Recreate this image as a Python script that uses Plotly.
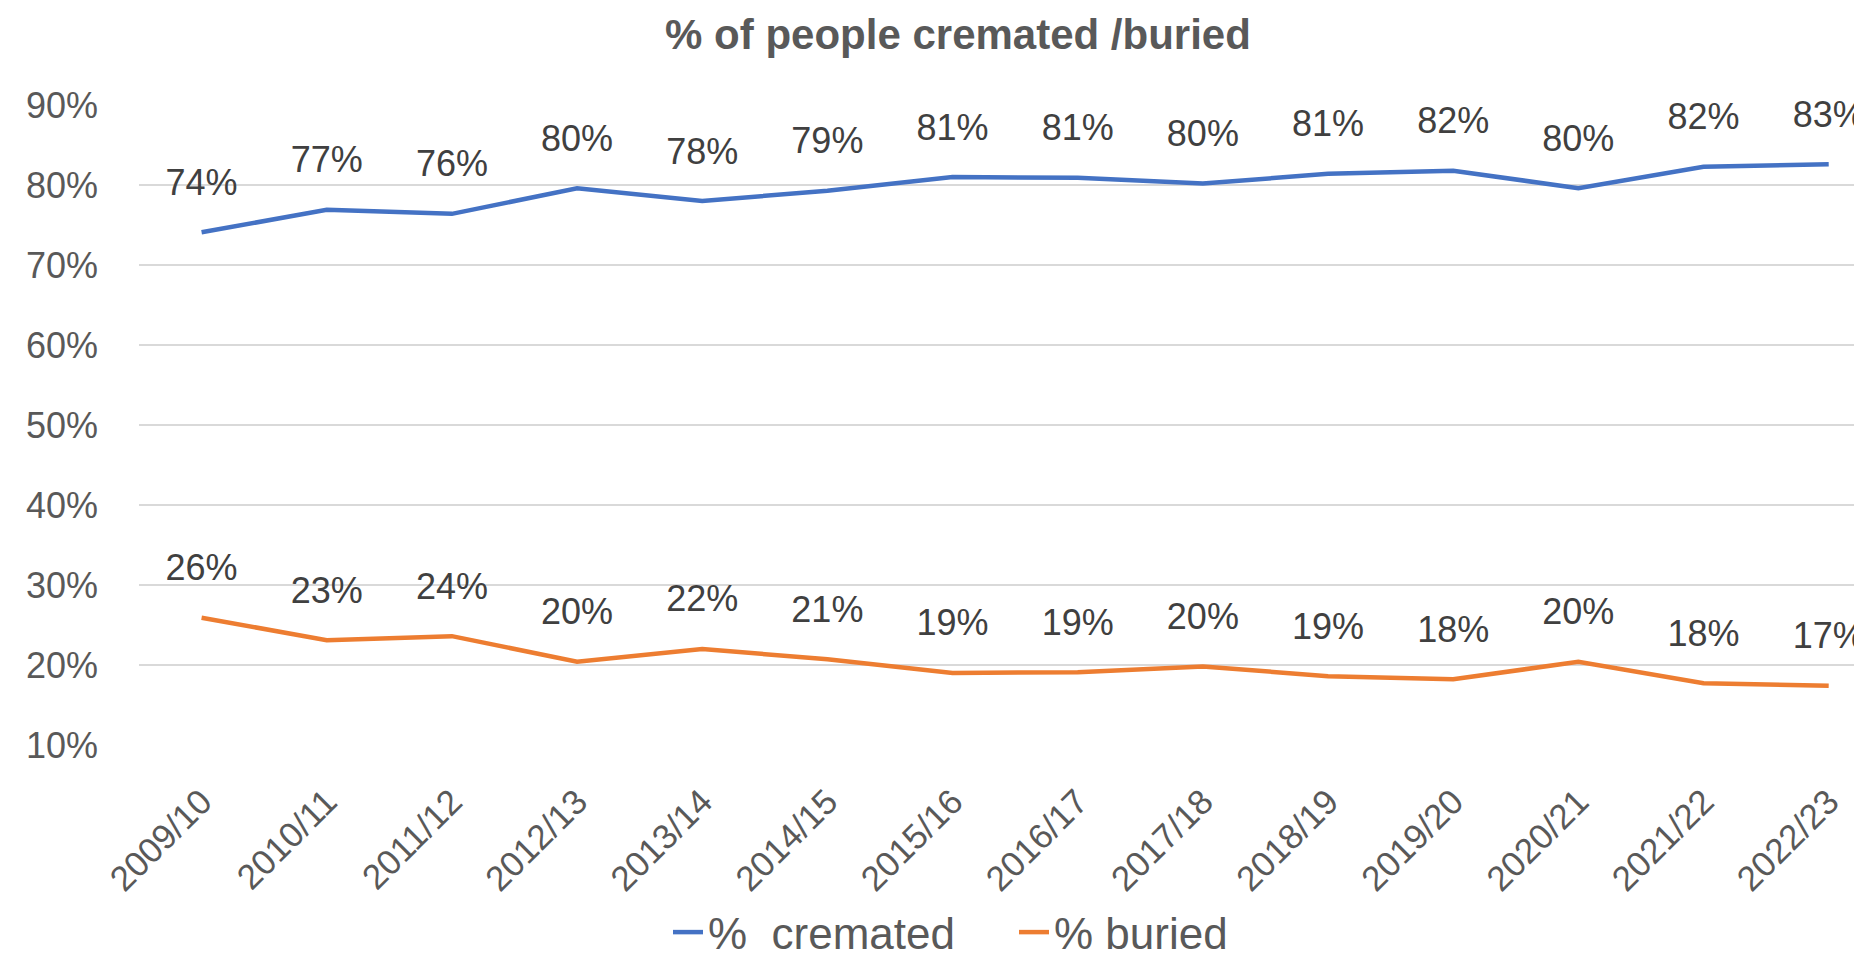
import plotly.graph_objects as go

years = ["2009/10", "2010/11", "2011/12", "2012/13", "2013/14", "2014/15", "2015/16",
         "2016/17", "2017/18", "2018/19", "2019/20", "2020/21", "2021/22", "2022/23"]
cremated = [0.741, 0.769, 0.764, 0.796, 0.780, 0.793, 0.810,
            0.809, 0.802, 0.814, 0.818, 0.796, 0.823, 0.826]
buried = [0.259, 0.231, 0.236, 0.204, 0.220, 0.207, 0.190,
          0.191, 0.198, 0.186, 0.182, 0.204, 0.177, 0.174]

grey = "#595959"
font_family = "Liberation Sans, Arial, sans-serif"

fig = go.Figure()

def add_line(y, name, color):
    fig.add_trace(go.Scatter(
        x=list(range(len(years))), y=y, name=name,
        mode="lines+markers+text",
        line=dict(color=color, width=4.5),
        marker=dict(size=44, color="rgba(0,0,0,0)"),
        texttemplate="%{y:.0%}", textposition="top center",
        textfont=dict(size=36, color="#404040", family=font_family),
        cliponaxis=False,
    ))

add_line(cremated, "%  cremated", "#4472C4")
add_line(buried, "% buried", "#ED7D31")

fig.update_layout(
    width=1862, height=960,
    paper_bgcolor="white", plot_bgcolor="white",
    margin=dict(l=131, r=0, t=97, b=223, autoexpand=False),
    font=dict(family=font_family, color=grey, size=36),
    title=dict(text="<b>% of people cremated /buried</b>",
               x=950 / 1862, xanchor="center", xref="container",
               y=1 - 26 / 960, yanchor="middle", yref="container",
               font=dict(size=42, color=grey, family=font_family)),
    showlegend=True,
    legend=dict(orientation="h", x=1006 / 1862, xanchor="center", xref="container",
                y=0, yanchor="bottom", yref="container",
                font=dict(size=44, color=grey), itemwidth=30,
                entrywidth=301, entrywidthmode="pixels",
                itemclick=False),
)

fig.update_xaxes(
    tickmode="array", tickvals=list(range(len(years))), ticktext=years,
    range=[-0.5, 13.33], tickangle=-45, showgrid=False, zeroline=False,
    showline=False, ticklabelstandoff=28, automargin=False,
    tickfont=dict(size=35, color=grey),
)
fig.update_yaxes(
    range=[0.0999, 0.9001], tickvals=[0.1, 0.2, 0.3, 0.4, 0.5, 0.6, 0.7, 0.8, 0.9],
    tickformat=".0%", showgrid=True, gridcolor="#D9D9D9", gridwidth=2,
    zeroline=False, showline=False, ticklabelstandoff=40, automargin=False,
    tickfont=dict(size=36, color=grey),
)

fig.write_html("out.html")
